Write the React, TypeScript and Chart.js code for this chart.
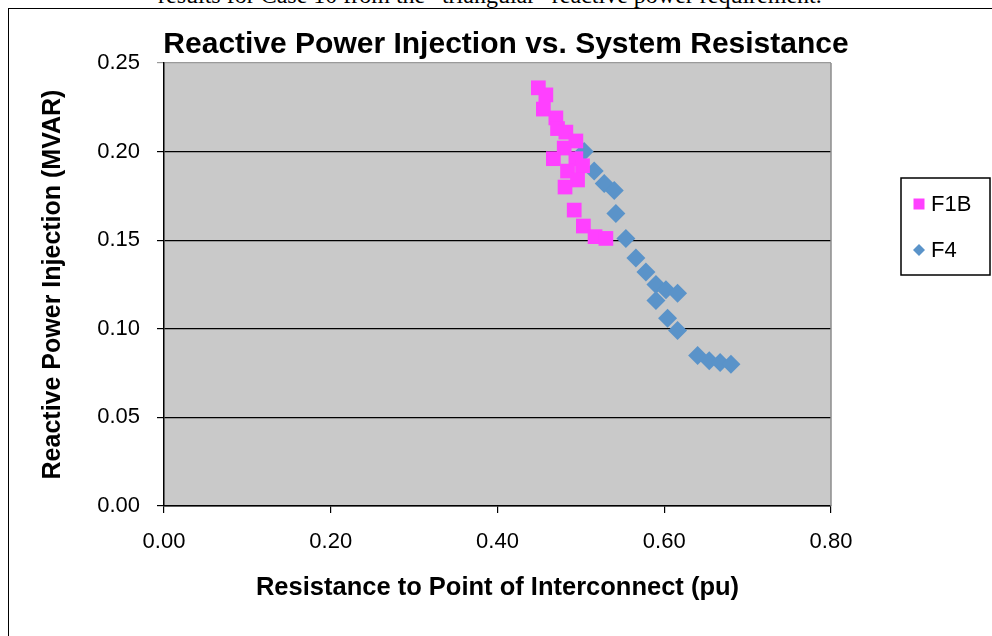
import React, { useEffect, useRef } from "react";
import { Chart, registerables } from "chart.js";

Chart.register(...registerables);

const chartTitle = "Reactive Power Injection vs. System Resistance";
const xTitle = "Resistance to Point of Interconnect (pu)";
const yTitle = "Reactive Power Injection (MVAR)";
const caption = "results for Case 10 from the \u201Ctriangular\u201D reactive power requirement.";

const seriesNames = ["F1B", "F4"];

const f1bX = [0.449, 0.458, 0.455, 0.470, 0.472, 0.482, 0.494, 0.480, 0.467, 0.494, 0.502, 0.484, 0.496, 0.481, 0.492, 0.503, 0.517, 0.530];
const f1bY = [0.236, 0.232, 0.224, 0.219, 0.213, 0.211, 0.206, 0.202, 0.196, 0.196, 0.192, 0.189, 0.184, 0.180, 0.167, 0.158, 0.152, 0.151];

const f4X = [0.504, 0.516, 0.528, 0.540, 0.542, 0.554, 0.566, 0.578, 0.590, 0.602, 0.616, 0.590, 0.604, 0.616, 0.640, 0.654, 0.667, 0.680];
const f4Y = [0.200, 0.189, 0.182, 0.178, 0.165, 0.151, 0.140, 0.132, 0.125, 0.122, 0.120, 0.116, 0.106, 0.099, 0.085, 0.082, 0.081, 0.080];

const xMin = 0, xMax = 0.8, xStep = 0.2;
const yMin = 0, yMax = 0.25, yStep = 0.05;

const FONT = "'Liberation Sans', Arial, Helvetica, sans-serif";
const PINK = "#ff40ff";
const BLUE = "#5a93c9";

const toPoints = (xs: number[], ys: number[]) => xs.map((x, i) => ({ x, y: ys[i] }));

const plotBg = {
  id: "plotBg",
  beforeDraw(chart: any) {
    const { ctx, chartArea } = chart;
    ctx.save();
    ctx.fillStyle = "#c9c9c9";
    ctx.fillRect(chartArea.left, chartArea.top, chartArea.right - chartArea.left, chartArea.bottom - chartArea.top);
    ctx.restore();
  },
  afterDatasetsDraw(chart: any) {
    const { ctx, chartArea } = chart;
    ctx.save();
    ctx.strokeStyle = "#8c8c8c";
    ctx.lineWidth = 1.5;
    ctx.beginPath();
    ctx.moveTo(chartArea.right, chartArea.top);
    ctx.lineTo(chartArea.right, chartArea.bottom);
    ctx.stroke();
    ctx.restore();
  },
};

const boxLegend = {
  id: "boxLegend",
  afterDraw(chart: any) {
    const { ctx, chartArea } = chart;
    const left = chartArea.right + 70;
    const top = 178;
    const w = 89;
    const h = 97;
    ctx.save();
    ctx.strokeStyle = "#000";
    ctx.lineWidth = 1.5;
    ctx.strokeRect(left, top, w, h);
    const rows = [top + 26, top + 72];
    chart.data.datasets.forEach((ds: any, i: number) => {
      const cy = rows[i];
      const cx = left + 18;
      ctx.fillStyle = ds.backgroundColor;
      ctx.beginPath();
      if (ds.pointStyle === "rectRot") {
        const r = 6;
        ctx.moveTo(cx - r, cy);
        ctx.lineTo(cx, cy - r);
        ctx.lineTo(cx + r, cy);
        ctx.lineTo(cx, cy + r);
        ctx.closePath();
      } else {
        ctx.rect(cx - 5.5, cy - 5.5, 11, 11);
      }
      ctx.fill();
      ctx.fillStyle = "#000";
      ctx.font = `22px ${FONT}`;
      ctx.textBaseline = "middle";
      ctx.textAlign = "left";
      ctx.fillText(ds.label, left + 30, cy + 1);
    });
    ctx.restore();
  },
};

export default function App() {
  const ref = useRef<HTMLCanvasElement | null>(null);

  useEffect(() => {
    if (!ref.current) return;
    Chart.defaults.color = "#000";
    const chart = new Chart(ref.current, {
      type: "scatter",
      data: {
        datasets: [
          {
            label: seriesNames[0],
            data: toPoints(f1bX, f1bY),
            pointStyle: "rect",
            radius: 10.4,
            backgroundColor: PINK,
            borderColor: PINK,
            borderWidth: 0,
          },
          {
            label: seriesNames[1],
            data: toPoints(f4X, f4Y),
            pointStyle: "rectRot",
            radius: 9.5,
            backgroundColor: BLUE,
            borderColor: BLUE,
            borderWidth: 0,
          },
        ],
      },
      plugins: [plotBg, boxLegend],
      options: {
        responsive: false,
        animation: false,
        devicePixelRatio: 1,
        layout: { padding: { left: 20, right: 0, top: 0, bottom: 0 } },
        plugins: {
          legend: { display: false },
          tooltip: { enabled: false },
          title: {
            display: true,
            text: chartTitle,
            color: "#000",
            font: { family: FONT, size: 30, weight: "bold" },
            padding: { top: 27, bottom: 0 },
          },
        },
        scales: {
          x: {
            type: "linear",
            min: xMin,
            max: xMax,
            afterFit(scale: any) {
              scale.height = 130;
            },
            ticks: {
              stepSize: xStep,
              font: { family: FONT, size: 22 },
              color: "#000",
              padding: 16,
              callback: (v: any) => Number(v).toFixed(2),
            },
            grid: {
              drawOnChartArea: false,
              drawTicks: true,
              tickLength: 7,
              color: "#000",
              lineWidth: 1.2,
            },
            border: { display: true, color: "#000", width: 1.5 },
            title: {
              display: true,
              text: xTitle,
              font: { family: FONT, size: 25.5, weight: "bold" },
              color: "#000",
              padding: { top: 0, bottom: 33 },
            },
          },
          y: {
            type: "linear",
            min: yMin,
            max: yMax,
            afterFit(scale: any) {
              scale.width = 144;
            },
            ticks: {
              stepSize: yStep,
              font: { family: FONT, size: 22 },
              color: "#000",
              padding: 17,
              callback: (v: any) => Number(v).toFixed(2),
            },
            grid: {
              drawTicks: true,
              tickLength: 7,
              color: (c: any) => (c.tick && Math.abs(c.tick.value - yMax) < 1e-9 ? "#9a9a9a" : "#000"),
              lineWidth: 1.2,
            },
            border: { display: true, color: "#000", width: 1.5 },
            title: {
              display: true,
              text: yTitle,
              font: { family: FONT, size: 25, weight: "bold" },
              color: "#000",
              padding: { top: 18, bottom: 0 },
            },
          },
          yR: {
            type: "linear",
            position: "right",
            display: true,
            min: yMin,
            max: yMax,
            afterFit(scale: any) {
              scale.width = 161;
            },
            ticks: { display: false },
            grid: { display: false, drawOnChartArea: false },
            border: { display: false },
          },
        },
      },
    } as any);
    return () => chart.destroy();
  }, []);

  return (
    <div
      style={{
        position: "fixed",
        left: 0,
        top: 0,
        width: 992,
        height: 636,
        overflow: "hidden",
        background: "#fff",
      }}
    >
      <div
        style={{
          position: "absolute",
          left: 158,
          top: -19,
          fontFamily: "'Liberation Serif', 'Times New Roman', serif",
          fontSize: 24,
          whiteSpace: "nowrap",
          color: "#000",
          lineHeight: "28px",
        }}
      >
        {caption}
      </div>
      <div
        style={{
          position: "absolute",
          left: 8,
          top: 8,
          width: 1100,
          height: 800,
          border: "1.5px solid #000",
          background: "transparent",
        }}
      />
      <canvas
        ref={ref}
        width={992}
        height={636}
        style={{ position: "absolute", left: 0, top: 0, display: "block" }}
      />
    </div>
  );
}
